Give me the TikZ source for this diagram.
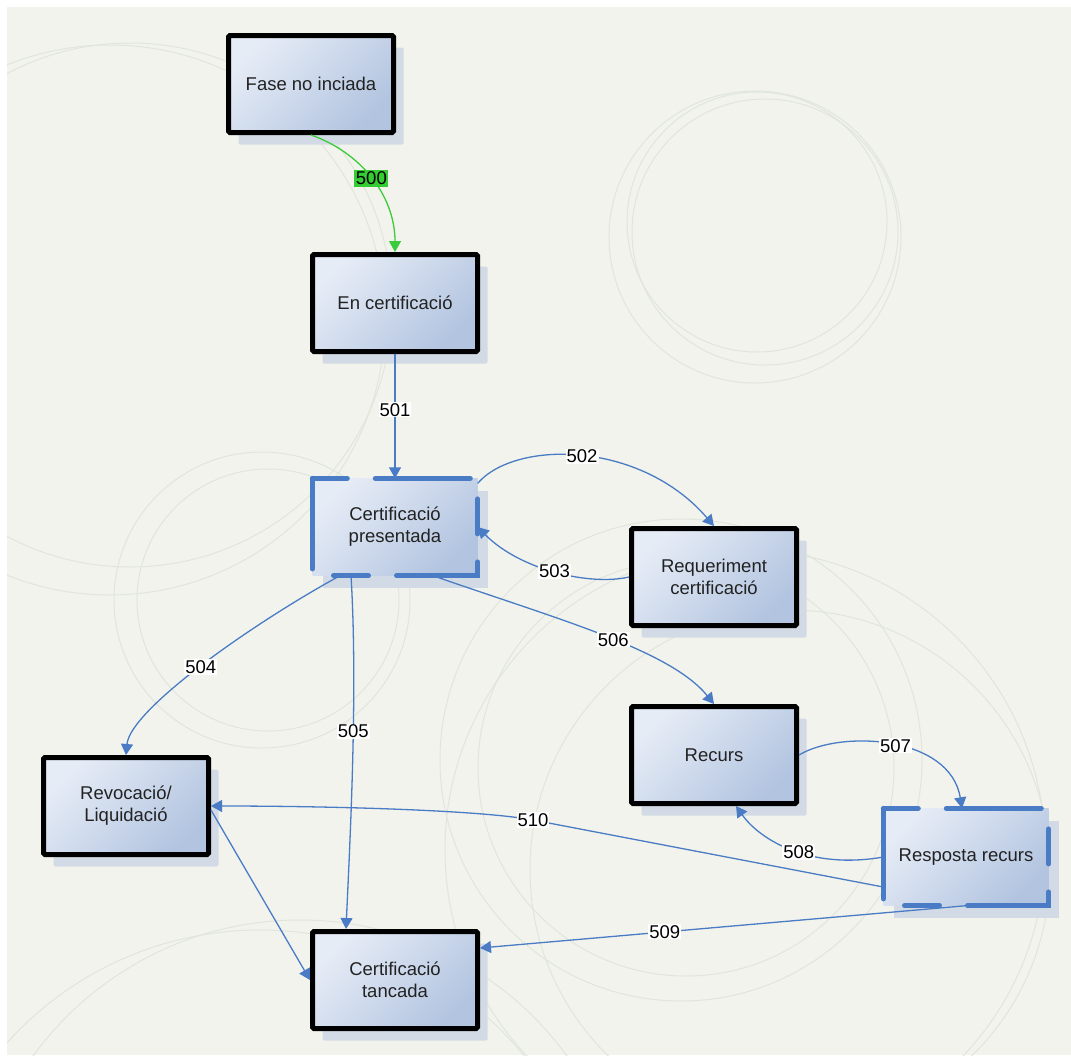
\documentclass[tikz,border=0pt]{standalone}
\usepackage{fontspec}
\setmainfont{Liberation Sans}
\usetikzlibrary{arrows.meta,shadows}
\definecolor{bgc}{HTML}{F2F3EC}
\definecolor{circc}{HTML}{E0E6DC}
\definecolor{boxlight}{HTML}{E6ECF6}
\definecolor{boxdark}{HTML}{B2C4E0}
\definecolor{shadowc}{HTML}{D2DBE5}
\definecolor{edgeblue}{HTML}{4A7CC6}
\definecolor{edgegreen}{HTML}{3CCB3C}
\definecolor{lblgreen}{HTML}{33CC33}
\definecolor{txt}{HTML}{222222}
\newcommand\bxfont{\fontsize{18.5}{22}\selectfont}
\newcommand\lbfont{\fontsize{18.5}{20}\selectfont}
\tikzset{
  box/.style={minimum width=165pt, minimum height=97pt, inner sep=0pt, align=center,
    font=\bxfont, text=txt, top color=boxlight, bottom color=boxdark, shading angle=45,
    general shadow={fill=shadowc, shadow xshift=10pt, shadow yshift=-12pt}},
  solidbox/.style={box, draw=black, line width=5pt, rounded corners=1.5pt},
  dashbox/.style={box, draw=none},
  dashline/.style={draw=edgeblue, line width=5pt, line cap=round,
    dash pattern=on 35pt off 28pt on 95pt off 28pt},
  edge/.style={draw=edgeblue, line width=1.3pt, -{Triangle[length=11pt,width=12pt]}},
  gedge/.style={draw=edgegreen, line width=1.3pt, -{Triangle[length=11pt,width=12pt]}},
  lbl/.style={fill=white, inner sep=1pt, font=\lbfont, text=black},
  glbl/.style={fill=lblgreen, inner sep=1.5pt, font=\lbfont, text=black},
  bgcirc/.style={draw=circc, line width=1pt}
}
\begin{document}
\begin{tikzpicture}[x=1pt,y=-1pt]
\useasboundingbox (0,0) rectangle (1071,1055);
\fill[white] (0,0) rectangle (1071,1055);
\fill[bgc] (7,7) rectangle (1071,1055);
\begin{scope}
  \clip (7,7) rectangle (1071,1055);
  \draw[bgcirc] (755,237) circle[radius=146];
  \draw[bgcirc] (757,222) circle[radius=130];
  \draw[bgcirc] (765,232) circle[radius=133];
  \draw[bgcirc] (110,320) circle[radius=275];
  \draw[bgcirc] (130,305) circle[radius=262];
  \draw[bgcirc] (262,600) circle[radius=148];
  \draw[bgcirc] (268,600) circle[radius=131];
  \draw[bgcirc] (745,850) circle[radius=300];
  \draw[bgcirc] (681,760) circle[radius=241];
  \draw[bgcirc] (686,768) circle[radius=208];
  \draw[bgcirc] (790,870) circle[radius=260];
  \draw[bgcirc] (300,1250) circle[radius=330];
  \draw[bgcirc] (260,1270) circle[radius=340];
\end{scope}

\node[solidbox] (fase)   at (311,84)  {Fase no inciada};
\node[solidbox] (encert) at (395,303) {En certificació};
\node[dashbox]  (pres)   at (395,527) {Certificació\\presentada};
\node[solidbox] (req)    at (714,577) {Requeriment\\certificació};
\node[solidbox] (recurs) at (714,755) {Recurs};
\node[dashbox]  (resp)   at (966,857) {Resposta recurs};
\node[solidbox] (revoc)  at (126,806) {Revocació/\\Liquidació};
\node[solidbox] (tanc)   at (395,980) {Certificació\\tancada};

\draw[dashline] (pres.north west) -- (pres.north east) -- (pres.south east) -- (pres.south west) -- cycle;
\draw[dashline] (resp.north west) -- (resp.north east) -- (resp.south east) -- (resp.south west) -- cycle;

\coordinate (w510) at (533,820);

\draw[gedge] (fase.south) .. controls (360,152) and (395,195) .. node[glbl,pos=0.5]{500} (encert.north);
\draw[edge] (encert.south) -- node[lbl,pos=0.45]{501} (pres.north);
\draw[edge] ([yshift=-5pt]pres.north east) .. controls (515,440) and (640,440) .. node[lbl,pos=0.5]{502} (req.north);
\draw[edge] (req.west) .. controls (590,586) and (520,570) .. node[lbl,pos=0.5]{503} (pres.east);
\draw[edge] ([xshift=-55pt]pres.south) .. controls (250,625) and (130,710) .. node[lbl,pos=0.5]{504} (revoc.north);
\draw[edge] ([xshift=-44pt]pres.south) .. controls (358,690) and (350,840) .. node[lbl,pos=0.42]{505} ([xshift=-49pt]tanc.north);
\draw[edge] ([xshift=38pt]pres.south) .. controls (560,620) and (670,650) .. node[lbl,pos=0.53]{506} (recurs.north);
\draw[edge] (recurs.east) .. controls (840,730) and (950,735) .. node[lbl,pos=0.52]{507} ([xshift=-4pt]resp.north);
\draw[edge] (resp.west) .. controls (810,870) and (760,840) .. node[lbl,pos=0.45]{508} ([xshift=22pt]recurs.south);
\draw[edge] (resp.south) -- node[lbl,pos=0.62]{509} ([yshift=32pt]tanc.east);
\draw[edge] ([yshift=-30pt]resp.west) -- node[lbl,pos=1]{510} (w510) .. controls (480,810) and (330,806) .. (revoc.east);
\draw[edge] ([yshift=-4pt]revoc.east) -- (tanc.west);
\end{tikzpicture}
\end{document}
